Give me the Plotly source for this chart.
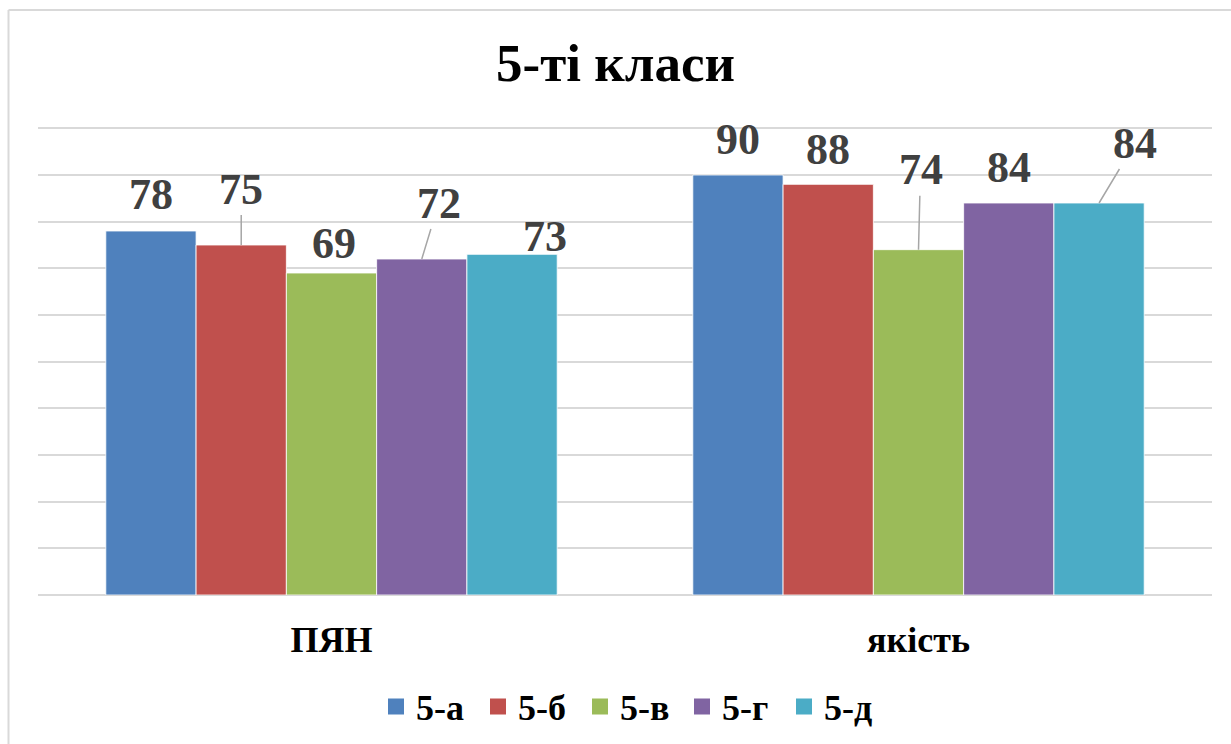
import plotly.graph_objects as go

# ---- data ----
categories = ["ПЯН", "якість"]
series_names = ["5-а", "5-б", "5-в", "5-г", "5-д"]
values_5a = [78, 90]
values_5b = [75, 88]
values_5v = [69, 74]
values_5g = [72, 84]
values_5d = [73, 84]
title_text = "5-ті класи"

series_values = [values_5a, values_5b, values_5v, values_5g, values_5d]

# ---- styles ----
colors = ["#4F81BD", "#C0504D", "#9BBB59", "#8064A2", "#4BACC6"]
FONT = "Liberation Serif, Times New Roman, serif"
BARGAP = 0.231
YMAX_PAD = 100.5
# label offsets (pixels, text centre relative to bar top) and leader-line flags
label_dx = [[0, 0], [0, 0], [2, 2], [17, 0], [33, 36]]
label_dy = [[-37, -36], [-56, -35], [-30, -80], [-56, -36], [-18, -60]]
label_leader = [[False, False], [True, False], [False, True], [True, False], [False, True]]

fig = go.Figure()
for name, vals, col in zip(series_names, series_values, colors):
    fig.add_trace(go.Bar(
        x=categories, y=vals, name=name, showlegend=False,
        marker=dict(color=col, line=dict(color="rgba(255,255,255,0.8)", width=1)),
    ))
# legend entries with larger square swatches
for name, col in zip(series_names, colors):
    fig.add_trace(go.Scatter(
        x=[None], y=[None], name=name, mode="markers",
        marker=dict(symbol="square", size=19, color=col),
    ))

n = len(series_names)
bar_w = (1 - BARGAP) / n
annotations = []
for i in range(n):
    for j, cat in enumerate(categories):
        xpos = j + (i - (n - 1) / 2) * bar_w
        v = series_values[i][j]
        common = dict(
            x=xpos, y=v, xref="x", yref="y", text=str(v),
            font=dict(family=FONT, size=44, color="#404040", weight="bold"),
        )
        if label_leader[i][j]:
            annotations.append(dict(
                **common, showarrow=True, arrowhead=0, arrowwidth=1.5,
                arrowcolor="#a6a6a6", ax=label_dx[i][j], ay=label_dy[i][j],
                standoff=0, xanchor="center", yanchor="middle",
            ))
        else:
            annotations.append(dict(
                **common, showarrow=False, xshift=label_dx[i][j],
                yshift=-label_dy[i][j], xanchor="center", yanchor="middle",
            ))

# chart-area border (top and left edges visible)
xl = (8.5 - 38) / 1174
yt = (595 - 12.5) / 467
shapes = [
    dict(type="line", xref="paper", yref="paper", x0=xl, x1=xl, y0=-1, y1=yt,
         line=dict(color="#d9d9d9", width=2)),
    dict(type="line", xref="paper", yref="paper", x0=xl, x1=1.5, y0=yt, y1=yt,
         line=dict(color="#d9d9d9", width=2)),
]

plot_h = 467 * YMAX_PAD / 100
fig.update_layout(
    width=1231, height=744,
    margin=dict(l=38, r=19, t=595 - plot_h, b=149, autoexpand=False),
    paper_bgcolor="white", plot_bgcolor="white",
    barmode="group", bargap=BARGAP, bargroupgap=0,
    title=dict(text=title_text, x=0.5, xanchor="center", y=1 - 62 / 744,
               yanchor="middle", yref="container",
               font=dict(family=FONT, size=53, color="black", weight="bold")),
    xaxis=dict(showgrid=False, zeroline=False, showline=False, ticks="",
               ticklabelstandoff=20, automargin=False,
               tickfont=dict(family=FONT, size=36, color="black", weight="bold")),
    yaxis=dict(range=[0, YMAX_PAD], dtick=10, showgrid=True, gridcolor="#d9d9d9",
               gridwidth=1.5, zeroline=True, zerolinecolor="#d9d9d9",
               zerolinewidth=1.5, showticklabels=False, showline=False,
               automargin=False),
    legend=dict(orientation="h", x=0.5 + 6 / 1174, xanchor="center",
                y=(595 - 706) / 467, yanchor="middle", entrywidth=57,
                itemsizing="trace",
                font=dict(family=FONT, size=36, color="black", weight="bold")),
    annotations=annotations,
    shapes=shapes,
)

fig.write_html(
    "out.html",
    config={"displayModeBar": False},
    post_script="document.body.style.margin='0';document.body.style.padding='0';",
)
